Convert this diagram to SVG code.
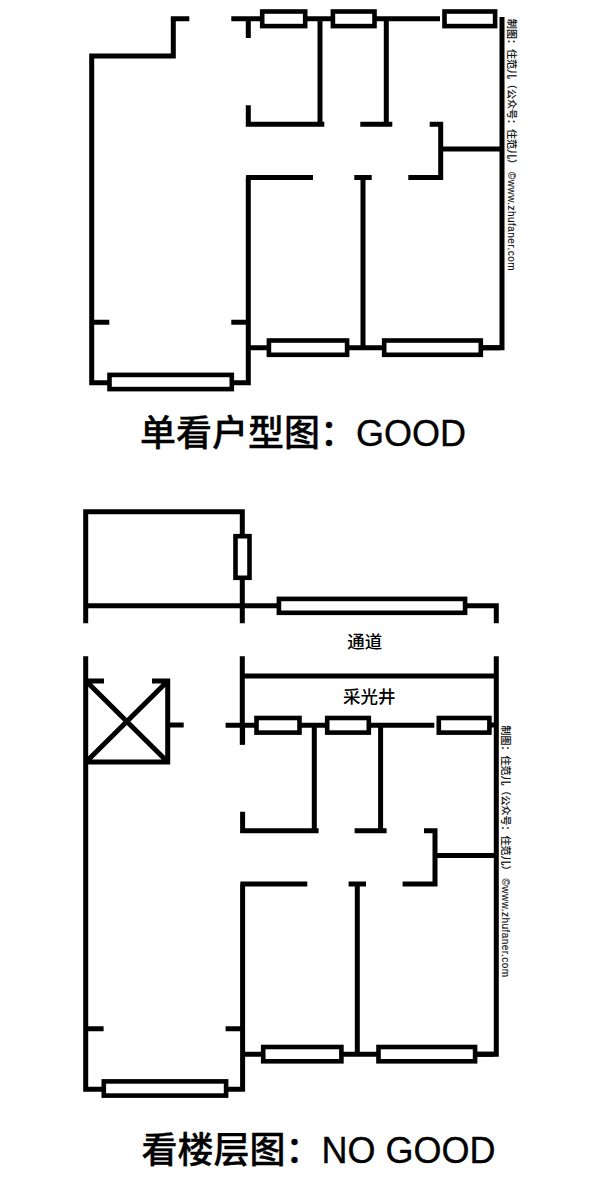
<svg xmlns="http://www.w3.org/2000/svg" width="600" height="1178" viewBox="0 0 600 1178">
<style>
.w{fill:none;stroke:#000;stroke-width:5;stroke-linejoin:miter}
.g{fill:#fff;stroke:#000;stroke-width:4.6}
.cap{font-family:"Liberation Sans","Noto Sans CJK SC",sans-serif;font-size:36px;font-weight:500;fill:#000;stroke:#000;stroke-width:.35px}
.lab{font-family:"Liberation Sans","Noto Sans CJK SC",sans-serif;font-size:17.5px;font-weight:500;fill:#000;text-anchor:middle}
.note{font-family:"Liberation Sans","Noto Sans CJK SC",sans-serif;font-size:10px;font-weight:500;fill:#111;stroke:#111;stroke-width:.12px}
.url{letter-spacing:.45px}
</style>
<rect width="600" height="1178" fill="#fff"/>
<defs>
<g id="unit">
<path class="w" d="M231.3 18.7H440M320 18.7V124.3M386.3 18.7V124.3M248.3 18.7V38M248.3 105.3V126.8M246 124.3H324.3M360.3 124.3H392.3M429.7 124.3H440.7V177.5H408.3M441 149H500M246 177.5H313M354.3 177.5H371.7M363 177.5V348M232 382.7H248.3V177.5M248 347.7H268M348 347.7H384M481 347.7H500M92 322.3H109.3M231.3 322.3H248"/>
<rect class="g" x="262.2" y="11.5" width="43" height="14.6"/>
<rect class="g" x="332.9" y="11.5" width="41.6" height="14.6"/>
<rect class="g" x="444.5" y="11.5" width="50.6" height="14.6"/>
<rect class="g" x="268.9" y="340.5" width="78.2" height="14.3"/>
<rect class="g" x="384.2" y="340.5" width="96.6" height="14.3"/>
<rect class="g" x="109.5" y="374.9" width="122.3" height="14.2"/>
</g>
</defs>
<g id="plan-unit">
<use href="#unit"/>
<path class="w" d="M189.3 18.7H173.3V56H91.7V382.7H109"/>
<path class="w" d="M482 347.7H502V17"/>
</g>
<g id="plan-floor">
<use href="#unit" transform="translate(-5.7 706.5)"/>
<path class="w" d="M85.7 623.3V511.7H242.3V623.3M85.7 605.7H278M465 605.7H496.3V623.3"/>
<rect class="g" x="278.9" y="598.9" width="186.2" height="13.9"/>
<rect class="g" x="235.5" y="536.2" width="14" height="41.6"/>
<path class="w" d="M85.7 656.3V1089.2H103"/>
<path class="w" d="M242.3 656.3V744.7M242.3 676H496.3M496.3 656.3V1054.2H476M488 725H496.3"/>
<path class="w" d="M86 681H104M152 681H167.7V762H86M86 681L167.7 762M167.7 681L86 762M168 725H183.7"/>
</g>
<g id="labels">
<text class="cap" x="140" y="445.5">单看户型图：GOOD</text>
<text class="cap" x="141.5" y="1163.3">看楼层图：NO GOOD</text>
<text class="lab" x="364.7" y="647.5">通道</text>
<text class="lab" x="369.3" y="703">采光井</text>
<text class="note" transform="translate(507.5 19) rotate(90)">制图：住范儿（公众号：住范儿）<tspan class="url" dx="3">©www.zhufaner.com</tspan></text>
<text class="note" transform="translate(501.8 725.5) rotate(90)">制图：住范儿（公众号：住范儿）<tspan class="url" dx="3">©www.zhufaner.com</tspan></text>
</g>
</svg>
